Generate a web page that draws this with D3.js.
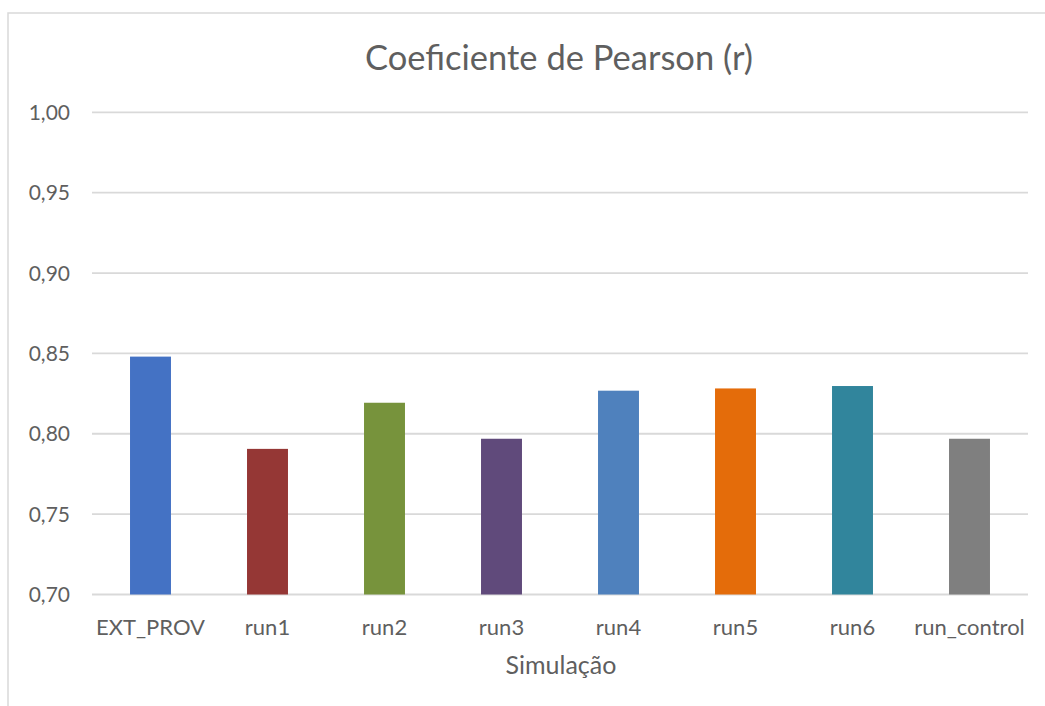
<!DOCTYPE html>
<html>
<head>
<meta charset="utf-8">
<script src="https://cdn.jsdelivr.net/npm/d3@7.9.0/dist/d3.min.js"></script>
<style>
  html, body { margin: 0; padding: 0; background: #fff; }
  svg { display: block; font-family: Lato, "Open Sans", sans-serif; }
</style>
</head>
<body>
<svg id="chart" width="1045" height="706"></svg>
<script>
const categories = ['EXT_PROV', 'run1', 'run2', 'run3', 'run4', 'run5', 'run6', 'run_control'];
const pearsonValues = [0.848, 0.7906, 0.8193, 0.7969, 0.8268, 0.8282, 0.8297, 0.7969];
const barColors = ['#4472C4', '#953735', '#77933C', '#604A7B', '#4F81BD', '#E46C0A', '#31859C', '#7F7F7F'];
const yTicks = [0.70, 0.75, 0.80, 0.85, 0.90, 0.95, 1.00];

const chartTitle = 'Coeficiente de Pearson (r)';
const xTitle = 'Simulação';

const svg = d3.select('#chart');
const textColor = '#5f5f5f';
const gridColor = '#D9D9D9';

const plot = { left: 92, right: 1028, top: 112.3, bottom: 594.5 };

// outer chart border (runs off the right and bottom of the picture)
svg.append('rect')
    .attr('x', 8).attr('y', 13)
    .attr('width', 1200).attr('height', 900)
    .attr('fill', 'none')
    .attr('stroke', gridColor)
    .attr('stroke-width', 1.5);

const x = d3.scaleBand()
    .domain(categories)
    .range([plot.left, plot.right])
    .paddingInner(0.65)
    .paddingOuter(0.325);

const y = d3.scaleLinear()
    .domain([0.70, 1.00])
    .range([plot.bottom, plot.top]);

const fmt = d => d3.format('.2f')(d).replace('.', ',');

// gridlines
svg.append('g')
    .selectAll('line')
    .data(yTicks)
    .join('line')
    .attr('x1', plot.left)
    .attr('x2', plot.right)
    .attr('y1', d => y(d))
    .attr('y2', d => y(d))
    .attr('stroke', gridColor)
    .attr('stroke-width', 1.8);

// y tick labels
svg.append('g')
    .selectAll('text')
    .data(yTicks)
    .join('text')
    .attr('x', 70)
    .attr('y', d => y(d))
    .attr('dy', '0.36em')
    .attr('text-anchor', 'end')
    .attr('fill', textColor)
    .style('font-size', '21px')
    .text(fmt);

// bars
const data = categories.map((c, i) => ({ name: c, value: pearsonValues[i], color: barColors[i] }));

svg.append('g')
    .selectAll('rect')
    .data(data)
    .join('rect')
    .attr('x', d => x(d.name))
    .attr('width', x.bandwidth())
    .attr('y', d => y(d.value))
    .attr('height', d => y(0.70) - y(d.value))
    .attr('fill', d => d.color);

// category labels
svg.append('g')
    .selectAll('text')
    .data(categories)
    .join('text')
    .attr('x', d => x(d) + x.bandwidth() / 2)
    .attr('y', 635)
    .attr('text-anchor', 'middle')
    .attr('fill', textColor)
    .style('font-size', '22px')
    .text(d => d);

// axis title
svg.append('text')
    .attr('x', 561)
    .attr('y', 674)
    .attr('text-anchor', 'middle')
    .attr('fill', textColor)
    .style('font-size', '25px')
    .text(xTitle);

// chart title
svg.append('text')
    .attr('x', 559)
    .attr('y', 70)
    .attr('text-anchor', 'middle')
    .attr('fill', textColor)
    .style('font-size', '34.5px')
    .text(chartTitle);
</script>
</body>
</html>
